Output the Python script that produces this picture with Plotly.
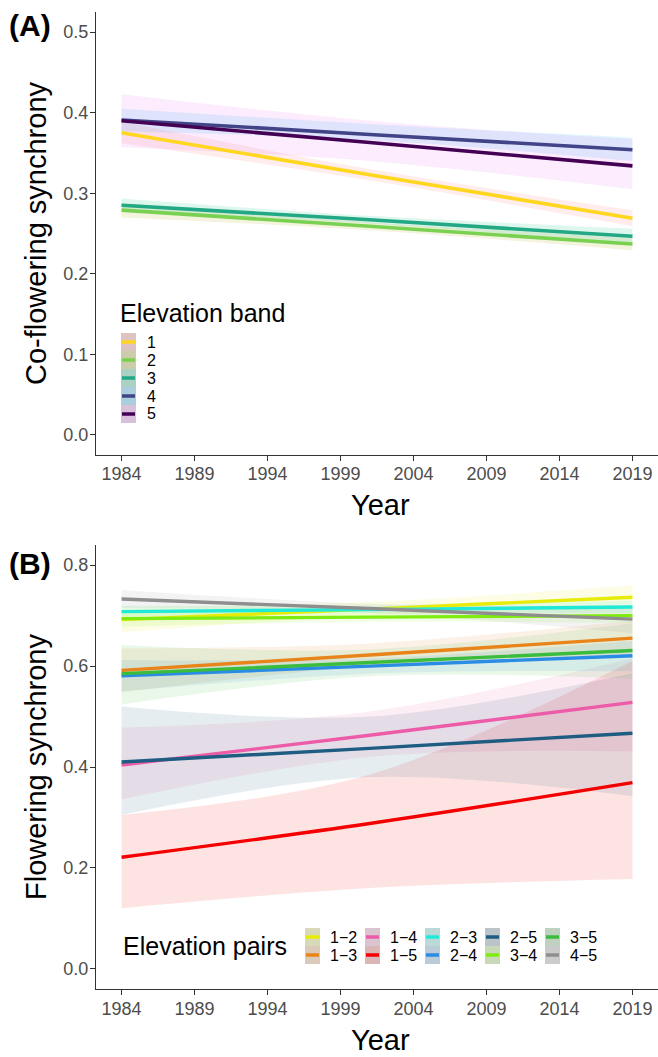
import plotly.graph_objects as go

W, H = 658, 1057

# ---------------- data ----------------
years = [1984, 2001, 2019]
tick_years = [1984, 1989, 1994, 1999, 2004, 2009, 2014, 2019]

# Panel A: co-flowering synchrony by elevation band
bands = ["1", "2", "3", "4", "5"]
band_fit = [
    [0.375, 0.323, 0.269],
    [0.279, 0.259, 0.237],
    [0.285, 0.267, 0.2465],
    [0.391, 0.373, 0.354],
    [0.390, 0.363, 0.334],
]
band_lo = [
    [0.362, 0.316, 0.259],
    [0.270, 0.254, 0.229],
    [0.277, 0.262, 0.237],
    [0.377, 0.366, 0.340],
    [0.357, 0.340, 0.305],
]
band_hi = [
    [0.389, 0.330, 0.279],
    [0.288, 0.264, 0.245],
    [0.2935, 0.272, 0.256],
    [0.405, 0.386, 0.369],
    [0.423, 0.390, 0.367],
]
band_line_colors = ["#FFD620", "#7AD151", "#22A884", "#414487", "#440154"]
band_fill_colors = ["#F8766D", "#A3A500", "#00BF7D", "#00B0F6", "#E76BF3"]

# Panel B: flowering synchrony by elevation pair
pairs = ["1−2", "1−3", "1−4", "1−5", "2−3", "2−4", "2−5", "3−4", "3−5", "4−5"]
pair_fit = [
    [0.692, 0.713, 0.7365],
    [0.5915, 0.622, 0.6555],
    [0.404, 0.463, 0.528],
    [0.221, 0.288, 0.369],
    [0.708, 0.712, 0.717],
    [0.581, 0.600, 0.6206],
    [0.410, 0.437, 0.467],
    [0.694, 0.697, 0.700],
    [0.585, 0.607, 0.631],
    [0.733, 0.714, 0.693],
]
pair_lo = [
    [0.667, 0.700, 0.714],
    [0.548, 0.600, 0.622],
    [0.336, 0.420, 0.431],
    [0.120, 0.160, 0.178],
    [0.698, 0.705, 0.705],
    [0.550, 0.585, 0.590],
    [0.305, 0.380, 0.342],
    [0.678, 0.688, 0.685],
    [0.524, 0.580, 0.575],
    [0.715, 0.705, 0.665],
]
pair_hi = [
    [0.718, 0.727, 0.760],
    [0.635, 0.645, 0.690],
    [0.478, 0.510, 0.615],
    [0.305, 0.385, 0.610],
    [0.720, 0.720, 0.730],
    [0.612, 0.615, 0.650],
    [0.520, 0.500, 0.586],
    [0.710, 0.706, 0.715],
    [0.642, 0.633, 0.685],
    [0.751, 0.724, 0.720],
]
pair_colors = ["#E6EC08", "#E8841A", "#EC5CA8", "#F50000", "#20EAD6",
               "#2A8CE2", "#1E5C82", "#7EEC10", "#3CBC3C", "#8E8E8E"]

# ---------------- helpers ----------------
def rgba(hex_color, a):
    h = hex_color.lstrip("#")
    r, g, b = int(h[0:2], 16), int(h[2:4], 16), int(h[4:6], 16)
    return f"rgba({r},{g},{b},{a})"

def blend_gray(hex_color, a, gray=214):
    h = hex_color.lstrip("#")
    c = [int(h[i:i + 2], 16) for i in (0, 2, 4)]
    m = [round(gray * (1 - a) + v * a) for v in c]
    return "#%02x%02x%02x" % tuple(m)

def fx(p):
    return p / W

def fy(p):
    return 1 - p / H

FONT = "Liberation Sans, Arial, sans-serif"

fig = go.Figure()

def add_panel(xa, ya, fits, los, his, line_colors, fill_colors, alpha, lw):
    for lo, hi, fc in zip(los, his, fill_colors):
        fig.add_trace(go.Scatter(x=years, y=lo, mode="lines", line=dict(width=0, shape="spline"),
                                 xaxis=xa, yaxis=ya, showlegend=False, hoverinfo="skip"))
        fig.add_trace(go.Scatter(x=years, y=hi, mode="lines", line=dict(width=0, shape="spline"),
                                 fill="tonexty", fillcolor=rgba(fc, alpha),
                                 xaxis=xa, yaxis=ya, showlegend=False, hoverinfo="skip"))
    for f, lc in zip(fits, line_colors):
        fig.add_trace(go.Scatter(x=years, y=f, mode="lines",
                                 line=dict(color=lc, width=lw, shape="spline"),
                                 xaxis=xa, yaxis=ya, showlegend=False))

add_panel("x", "y", band_fit, band_lo, band_hi, band_line_colors, band_fill_colors, 0.13, 3.6)
add_panel("x2", "y2", pair_fit, pair_lo, pair_hi, pair_colors, pair_colors, 0.11, 3.4)

axis_common = dict(showline=True, linecolor="#333333", linewidth=1.2, ticks="outside",
                   ticklen=5, tickcolor="#333333", tickwidth=1.1, showgrid=False, zeroline=False,
                   tickfont=dict(family=FONT, size=18, color="#4d4d4d"))

xdom = [96 / W, 1.0]
fig.update_layout(
    width=W, height=H, autosize=False,
    margin=dict(l=0, r=0, t=0, b=0),
    paper_bgcolor="white", plot_bgcolor="white",
    font=dict(family=FONT),
    xaxis=dict(domain=xdom, range=[1982.25, 2020.75], tickvals=tick_years, anchor="y",
               ticklabelstandoff=-3, **axis_common),
    yaxis=dict(domain=[fy(455), fy(12)], range=[-0.025, 0.525], tickvals=[0, 0.1, 0.2, 0.3, 0.4, 0.5],
               tickformat=".1f", anchor="x", ticklabelstandoff=-2, **axis_common),
    xaxis2=dict(domain=xdom, range=[1982.25, 2020.75], tickvals=tick_years, anchor="y2",
                ticklabelstandoff=-2, **axis_common),
    yaxis2=dict(domain=[fy(989), fy(545)], range=[-0.04, 0.84], tickvals=[0, 0.2, 0.4, 0.6, 0.8],
                tickformat=".1f", anchor="x2", ticklabelstandoff=-2, **axis_common),
)

ann = []
shapes = []

def text(x, y, s, size, xanchor="left", angle=0, color="black", pad=1):
    ann.append(dict(x=fx(x), y=fy(y), xref="paper", yref="paper", text=s, showarrow=False,
                    xanchor=xanchor, yanchor="middle", textangle=angle, borderpad=pad,
                    font=dict(family=FONT, size=size, color=color)))

# panel labels
text(7, 26, "<b>(A)</b>", 30)
text(7, 563, "<b>(B)</b>", 30)
# axis titles
text(36, 233, "Co-flowering synchrony", 29, xanchor="center", angle=-90)
text(36, 767, "Flowering synchrony", 29, xanchor="center", angle=-90)
text(380, 505, "Year", 29, xanchor="center")
text(380, 1040, "Year", 29, xanchor="center")

# legend A (key boxes + lines + labels)
text(118, 313, "Elevation band", 25)
rows_a = [342, 360, 378, 396, 414]
for lab, ry, lc, fc in zip(bands, rows_a, band_line_colors, band_fill_colors):
    shapes.append(dict(type="rect", xref="paper", yref="paper", x0=fx(121), x1=fx(136),
                       y0=fy(ry + 9), y1=fy(ry - 9), fillcolor=blend_gray(fc, 0.2),
                       line=dict(width=0), layer="above"))
    shapes.append(dict(type="line", xref="paper", yref="paper", x0=fx(122), x1=fx(135),
                       y0=fy(ry), y1=fy(ry), line=dict(color=lc, width=3.5), layer="above"))
    text(146, ry, lab, 16, pad=0)

# legend B
text(121, 946, "Elevation pairs", 25)
cols_b = [305, 365, 425, 485, 545]
rows_b = [937, 955]
for i, (lab, lc) in enumerate(zip(pairs, pair_colors)):
    kx = cols_b[i // 2]
    ry = rows_b[i % 2]
    shapes.append(dict(type="rect", xref="paper", yref="paper", x0=fx(kx), x1=fx(kx + 15),
                       y0=fy(ry + 9), y1=fy(ry - 9), fillcolor=blend_gray(lc, 0.15),
                       line=dict(width=0), layer="above"))
    shapes.append(dict(type="line", xref="paper", yref="paper", x0=fx(kx + 1), x1=fx(kx + 14),
                       y0=fy(ry), y1=fy(ry), line=dict(color=lc, width=3.5), layer="above"))
    text(kx + 24, ry, lab, 16, pad=0)

fig.update_layout(annotations=ann, shapes=shapes)
fig.write_html("out.html")
